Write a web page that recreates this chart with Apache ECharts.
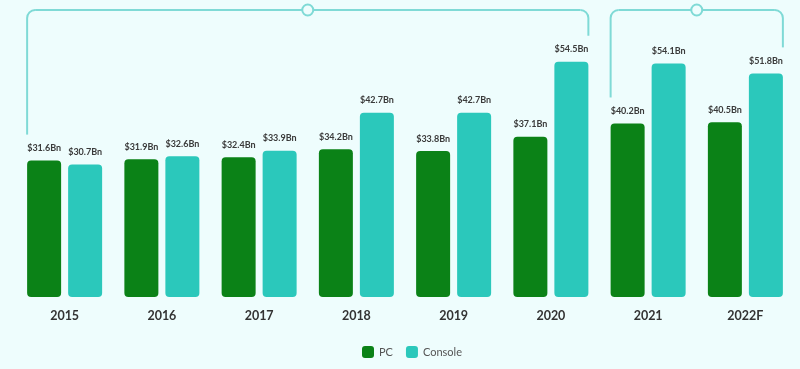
<!DOCTYPE html>
<html>
<head>
<meta charset="utf-8">
<script src="https://cdn.jsdelivr.net/npm/echarts@6/dist/echarts.min.js"></script>
<style>
html,body{margin:0;padding:0;background:#eefdfd;}
#c{width:800px;height:369px;}
</style>
</head>
<body>
<div id="c"></div>
<script>
var categories = ['2015','2016','2017','2018','2019','2020','2021','2022F'];
var pcValues = [31.6, 31.9, 32.4, 34.2, 33.8, 37.1, 40.2, 40.5];
var consoleValues = [30.7, 32.6, 33.9, 42.7, 42.7, 54.5, 54.1, 51.8];
var seriesNames = ['PC', 'Console'];
// bracket groups: [first category index, last category index]
var groups = [[0, 5], [6, 7]];

var PC_COLOR = '#0b8217';
var CON_COLOR = '#2bc8bb';
var LINE_COLOR = '#7fdad6';
var BG = '#eefdfd';

var chart = echarts.init(document.getElementById('c'), null, {renderer: 'canvas'});

function fmt(p) { return '$' + p.value + 'Bn'; }

var labelStyle = {
  show: true, position: 'top', distance: 8,
  formatter: fmt, color: '#3a3a3a', fontSize: 9, fontWeight: 'bold',
  fontFamily: 'Lato'
};

chart.setOption({
  backgroundColor: BG,
  animation: false,
  grid: {left: 16, right: 6, top: 38, bottom: 72},
  legend: {
    data: seriesNames, left: 357, top: 341,
    itemWidth: 12, itemHeight: 12, itemGap: 13,
    icon: 'roundRect',
    textStyle: {color: '#555', fontSize: 11, fontFamily: 'Lato'}
  },
  xAxis: {
    type: 'category', data: categories,
    axisLine: {show: false}, axisTick: {show: false},
    axisLabel: {color: '#333', fontSize: 12.5, fontWeight: 'bold', fontFamily: 'Lato', margin: 12}
  },
  yAxis: {type: 'value', min: 0, max: 60, show: false, splitLine: {show: false}},
  series: [
    {name: seriesNames[0], type: 'bar', data: pcValues, barWidth: 34, barGap: '20.6%',
     itemStyle: {color: PC_COLOR, borderRadius: 4}, label: labelStyle},
    {name: seriesNames[1], type: 'bar', data: consoleValues, barWidth: 34, barGap: '20.6%',
     itemStyle: {color: CON_COLOR, borderRadius: 4}, label: labelStyle}
  ]
});

// Brackets computed from axis positions
var graphics = [];
var r = 8;
var topY = 10;
var lineStyle = {stroke: LINE_COLOR, lineWidth: 2, fill: null};
groups.forEach(function (g) {
  var c1 = chart.convertToPixel({xAxisIndex: 0}, g[0]);
  var c2 = chart.convertToPixel({xAxisIndex: 0}, g[1]);
  var x1 = c1 - 37.5, x2 = c2 + 37.5;
  var yL = chart.convertToPixel({yAxisIndex: 0}, pcValues[g[0]]) - 26;
  var yR = chart.convertToPixel({yAxisIndex: 0}, consoleValues[g[1]]) - 26;
  graphics.push({type: 'line', shape: {x1: x1, y1: yL, x2: x1, y2: topY + r}, style: lineStyle, z: 10});
  graphics.push({type: 'arc', shape: {cx: x1 + r, cy: topY + r, r: r, startAngle: Math.PI, endAngle: Math.PI * 1.5, clockwise: true}, style: lineStyle, z: 10});
  graphics.push({type: 'line', shape: {x1: x1 + r, y1: topY, x2: x2 - r, y2: topY}, style: lineStyle, z: 10});
  graphics.push({type: 'arc', shape: {cx: x2 - r, cy: topY + r, r: r, startAngle: Math.PI * 1.5, endAngle: Math.PI * 2, clockwise: true}, style: lineStyle, z: 10});
  graphics.push({type: 'line', shape: {x1: x2, y1: topY + r, x2: x2, y2: yR}, style: lineStyle, z: 10});
  graphics.push({type: 'circle', shape: {cx: (x1 + x2) / 2, cy: topY, r: 5.5}, style: {fill: BG, stroke: LINE_COLOR, lineWidth: 2}, z: 11});
});
chart.setOption({graphic: graphics});
</script>
</body>
</html>
